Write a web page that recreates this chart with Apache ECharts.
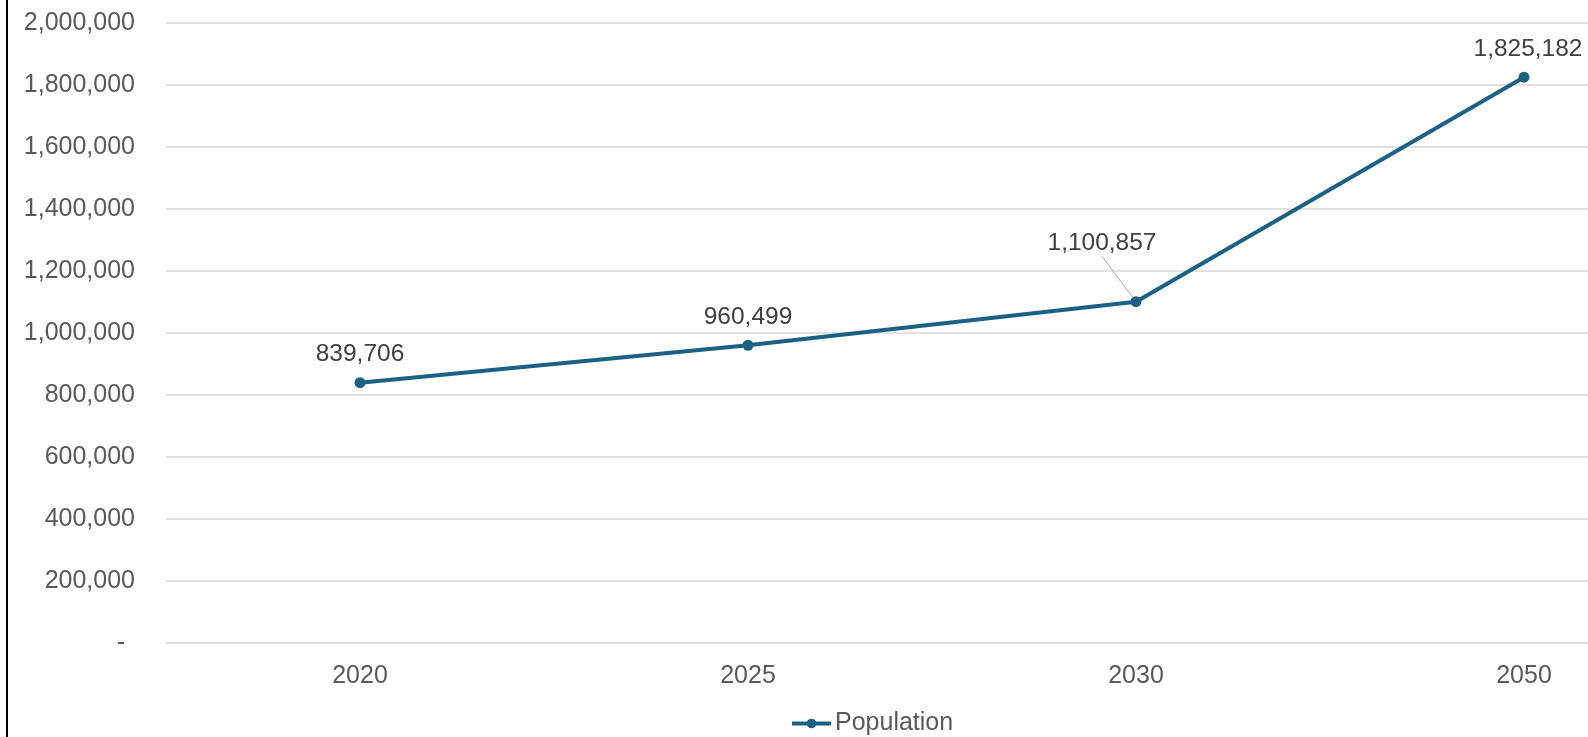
<!DOCTYPE html>
<html>
<head>
<meta charset="utf-8">
<script src="https://cdn.jsdelivr.net/npm/echarts@6/dist/echarts.min.js"></script>
<style>
  html, body { margin: 0; padding: 0; background: #fff; overflow: hidden; width: 1588px; height: 737px; }
  #chart { position: absolute; left: 0; top: 0; width: 1740px; height: 737px; }
  #edge { position: absolute; left: 6px; top: 0; width: 2px; height: 737px; background: #000; z-index: 5; }
</style>
</head>
<body>
<div id="chart"></div>
<div id="edge"></div>
<script>
const categories = ['2020', '2025', '2030', '2050'];
const population = [839706, 960499, 1100857, 1825182];
const seriesName = 'Population';

const fmt = v => v.toLocaleString('en-US');

const chart = echarts.init(document.getElementById('chart'), null, { renderer: 'canvas' });
const lineColor = '#1B6184';

const seriesData = population.map((v, i) => {
  const item = { value: v };
  if (i === 2) {
    item.labelLine = { show: true, lineStyle: { color: '#a6a6a6', width: 1 } };
  }
  return item;
});

chart.setOption({
  animation: false,
  backgroundColor: '#ffffff',
  textStyle: { fontFamily: 'Liberation Sans, Arial, sans-serif' },
  grid: { left: 166, right: 22, top: 23, bottom: 94, containLabel: false },
  legend: {
    data: [seriesName],
    left: 790,
    top: 711,
    padding: 0,
    itemWidth: 39,
    itemHeight: 12,
    itemGap: 10,
    lineStyle: { width: 4 },
    textStyle: { color: '#595959', fontSize: 25, fontFamily: 'Liberation Sans, Arial, sans-serif', padding: [0, 0, 0, -1] }
  },
  xAxis: {
    type: 'category',
    data: categories,
    boundaryGap: true,
    axisLine: { show: true, lineStyle: { color: '#d9d9d9', width: 1.5 } },
    axisTick: { show: false },
    axisLabel: { color: '#595959', fontSize: 25, margin: 21 }
  },
  yAxis: {
    type: 'value',
    min: 0,
    max: 2000000,
    interval: 200000,
    axisLine: { show: false },
    axisTick: { show: false },
    splitLine: { lineStyle: { color: '#d9d9d9', width: 1.5 } },
    axisLabel: {
      color: '#595959',
      fontSize: 25,
      margin: 31,
      formatter: v => v === 0 ? '{d|-}' : fmt(v),
      rich: { d: { color: '#595959', fontSize: 25, padding: [0, 10, 0, 0] } }
    }
  },
  series: [{
    name: seriesName,
    type: 'line',
    data: seriesData,
    symbol: 'circle',
    symbolSize: 11,
    lineStyle: { color: lineColor, width: 4 },
    itemStyle: { color: lineColor },
    label: {
      show: true,
      position: 'top',
      distance: 10,
      color: '#404040',
      fontSize: 24.5,
      formatter: p => fmt(p.value)
    },
    labelLayout: function (params) {
      if (params.dataIndex === 2) return { dx: -34, dy: -30 };
      if (params.dataIndex === 3) return { dx: 4 };
      return {};
    }
  }]
});
</script>
</body>
</html>
